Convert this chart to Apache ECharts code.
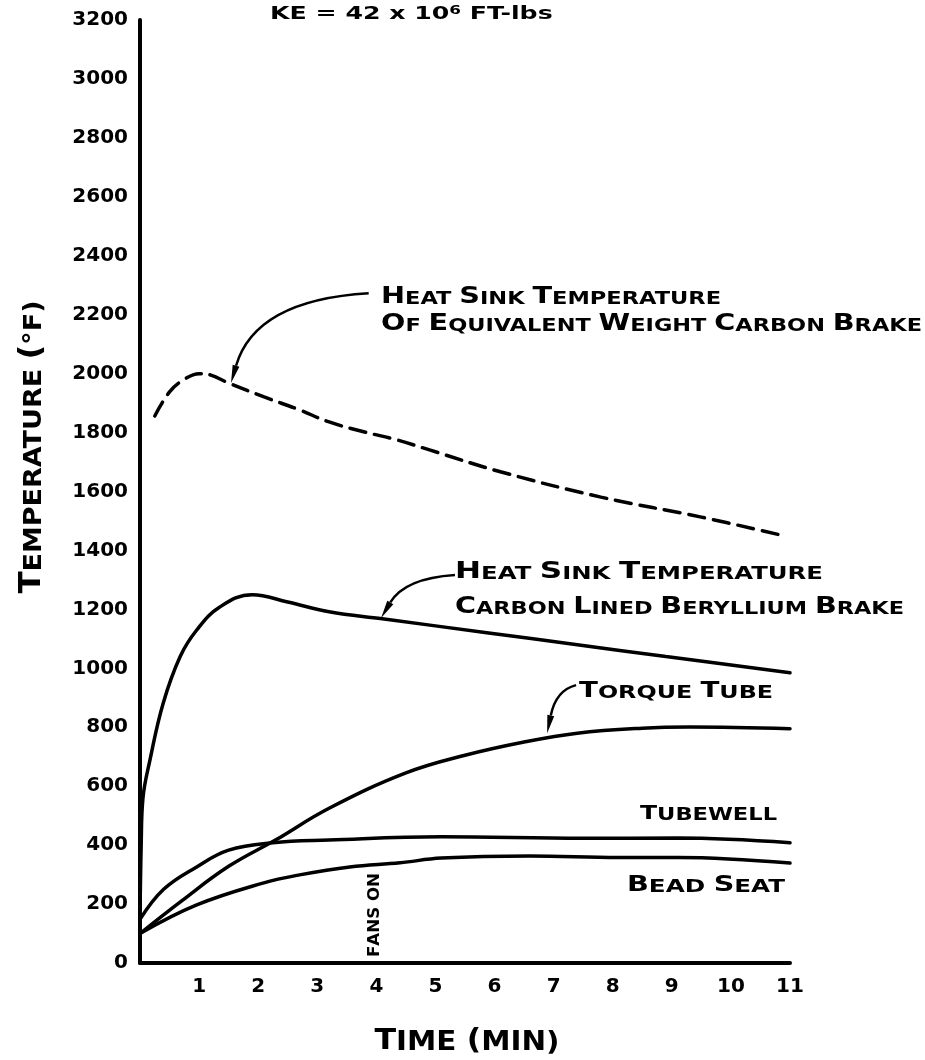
<!DOCTYPE html>
<html>
<head>
<meta charset="utf-8">
<script src="https://cdn.jsdelivr.net/npm/echarts@6/dist/echarts.min.js"></script>
<style>
html, body { margin: 0; padding: 0; background: #fff; }
#chart { width: 925px; height: 1060px; }
</style>
</head>
<body>
<div id="chart"></div>
<script>
// values: time in minutes, temperature in °F
const berylliumTime = [0, 0.02, 0.05, 0.17, 0.39, 0.68, 0.96, 1.35, 1.9, 2.5, 3.2, 4.1, 5.9, 7.4, 8.9, 11]
const berylliumTemp = [150, 400, 560, 690, 880, 1040, 1130, 1208, 1250, 1225, 1192, 1168, 1120, 1080, 1040, 985]

const carbonTime = [0.25, 0.5, 0.73, 1.0, 1.2, 1.5, 2.1, 2.7, 3.2, 3.8, 4.35, 4.9, 6.1, 7.8, 9.5, 10.85]
const carbonTemp = [1856, 1938, 1978, 2000, 1995, 1968, 1921, 1877, 1836, 1802, 1775, 1741, 1667, 1581, 1513, 1452]

const torqueTime = [0, 0.7, 1.5, 2.3, 3.2, 4.5, 5.5, 6.5, 7.4, 8.5, 9.3, 11]
const torqueTemp = [100, 210, 328, 418, 525, 645, 705, 750, 780, 797, 801, 795]

const tubewellTime = [0, 0.4, 0.96, 1.5, 2.25, 3.2, 5.1, 7.5, 9.1, 11]
const tubewellTemp = [148, 250, 326, 383, 408, 417, 428, 423, 424, 408]

const beadTime = [0, 0.96, 2.08, 2.7, 3.55, 4.4, 5.1, 6.6, 8.1, 9.1, 11]
const beadTemp = [100, 197, 271, 299, 326, 340, 356, 363, 358, 358, 339]

const xTicks = [1, 2, 3, 4, 5, 6, 7, 8, 9, 10, 11]
const yTicks = [0, 200, 400, 600, 800, 1000, 1200, 1400, 1600, 1800, 2000, 2200, 2400, 2600, 2800, 3000, 3200]

const FONT = '"DejaVu Sans", sans-serif'
const zip = (xs, ys) => xs.map((x, i) => [x, ys[i]])

const myChart = echarts.init(document.getElementById('chart'))

function curve(name, xs, ys, dashed) {
  return {
    name,
    type: 'line',
    data: zip(xs, ys),
    smooth: 0.4,
    showSymbol: false,
    silent: true,
    lineStyle: {
      color: '#000',
      width: 3.5,
      type: dashed ? [16, 9] : 'solid',
      cap: 'round'
    }
  }
}

const option = {
  animation: false,
  backgroundColor: '#fff',
  grid: { left: 140, right: 135, top: 20, bottom: 97 },
  xAxis: {
    type: 'value',
    min: 0,
    max: 11,
    interval: 1,
    axisLine: { show: true, lineStyle: { color: '#000', width: 4 } },
    axisTick: { show: false },
    splitLine: { show: false },
    axisLabel: {
      color: '#000',
      fontSize: 20,
      fontWeight: 'bold',
      fontFamily: FONT,
      margin: 14,
      formatter: (v) => (xTicks.includes(v) ? String(v) : '')
    }
  },
  yAxis: {
    type: 'value',
    min: 0,
    max: 3200,
    interval: 200,
    axisLine: { show: true, lineStyle: { color: '#000', width: 4 } },
    axisTick: { show: false },
    splitLine: { show: false },
    axisLabel: {
      color: '#000',
      fontSize: 20,
      fontWeight: 'bold',
      fontFamily: FONT,
      margin: 12,
      formatter: (v) => (yTicks.includes(v) ? String(v) : '')
    }
  },
  series: [
    curve('Carbon brake', carbonTime, carbonTemp, true),
    curve('Beryllium brake', berylliumTime, berylliumTemp),
    curve('Torque tube', torqueTime, torqueTemp),
    curve('Tubewell', tubewellTime, tubewellTemp),
    curve('Bead seat', beadTime, beadTemp)
  ]
}

myChart.setOption(option)

// --- hand lettered annotations ---
const ctx = document.createElement('canvas').getContext('2d')
function textWidth(s, size) {
  ctx.font = 'bold ' + size + 'px ' + FONT
  return ctx.measureText(s).width
}

// small caps: first letter of each word bigger
function capsText(str, big, small) {
  let rich = ''
  let width = 0
  str.split(' ').forEach((w, i) => {
    if (i) { rich += '{s| }'; width += textWidth(' ', small) }
    rich += '{b|' + w[0] + '}'
    width += textWidth(w[0], big)
    if (w.length > 1) { rich += '{s|' + w.slice(1) + '}'; width += textWidth(w.slice(1), small) }
  })
  return { rich, width }
}

function label(str, big, small, x, y, target, align, rotation) {
  const t = capsText(str, big, small)
  return {
    type: 'text',
    x, y,
    rotation: rotation || 0,
    scaleX: target / t.width,
    silent: true,
    style: {
      text: t.rich,
      align: align || 'left',
      verticalAlign: 'middle',
      textAlign: align || 'left',
      textVerticalAlign: 'middle',
      fill: '#000',
      rich: {
        b: { fontSize: big, fontWeight: 'bold', fontFamily: FONT, verticalAlign: 'bottom', color: '#000' },
        s: { fontSize: small, fontWeight: 'bold', fontFamily: FONT, verticalAlign: 'bottom', color: '#000' }
      }
    }
  }
}

function arrow(from, ctrl, tip) {
  const p0 = myChart.convertToPixel({ gridIndex: 0 }, from)
  const c = myChart.convertToPixel({ gridIndex: 0 }, ctrl)
  const p1 = myChart.convertToPixel({ gridIndex: 0 }, tip)
  const dx = p1[0] - c[0]
  const dy = p1[1] - c[1]
  const len = Math.hypot(dx, dy)
  const ux = dx / len
  const uy = dy / len
  const hl = 18
  const hw = 3.5
  const bx = p1[0] - ux * hl
  const by = p1[1] - uy * hl
  return [
    {
      type: 'bezierCurve',
      silent: true,
      shape: { x1: p0[0], y1: p0[1], x2: bx, y2: by, cpx1: c[0], cpy1: c[1] },
      style: { stroke: '#000', lineWidth: 2.5, fill: null }
    },
    {
      type: 'polygon',
      silent: true,
      shape: { points: [[p1[0], p1[1]], [bx - uy * hw, by + ux * hw], [bx + uy * hw, by - ux * hw]] },
      style: { fill: '#000' }
    }
  ]
}

const keTitle = {
  type: 'text',
  x: 270,
  y: 14,
  scaleX: 1.4,
  silent: true,
  style: {
    text: '{n|KE = 42 x 10}{sup|6}{n| FT-lbs}',
    align: 'left',
    verticalAlign: 'middle',
    textAlign: 'left',
    textVerticalAlign: 'middle',
    rich: {
      n: { fontSize: 18, fontWeight: 'bold', fontFamily: FONT, color: '#000', verticalAlign: 'bottom' },
      sup: { fontSize: 12, fontWeight: 'bold', fontFamily: FONT, color: '#000', verticalAlign: 'top' }
    }
  }
}

const graphics = [
  keTitle,
  label('TEMPERATURE (°F)', 30, 25, 32, 447, 293, 'center', Math.PI / 2),
  label('TIME (MIN)', 28, 26, 467, 1042, 185, 'center'),
  label('HEAT SINK TEMPERATURE', 23, 18, 381, 297, 340),
  label('OF EQUIVALENT WEIGHT CARBON BRAKE', 23, 18, 381, 324, 541),
  label('HEAT SINK TEMPERATURE', 23, 18, 455, 572, 368),
  label('CARBON LINED BERYLLIUM BRAKE', 23, 18, 455, 607, 449),
  label('TORQUE TUBE', 21, 18, 579, 692, 194),
  label('TUBEWELL', 20, 18, 777, 814, 137, 'right'),
  label('BEAD SEAT', 21, 18, 627, 886, 158),
  label('FANS ON', 15, 15, 375, 915, 84, 'center', Math.PI / 2)
]
  .concat(arrow([3.87, 2273], [1.95, 2250], [1.54, 1968]))
  .concat(arrow([5.33, 1317], [4.48, 1306], [4.08, 1171]))
  .concat(arrow([7.38, 943], [7.04, 926], [6.89, 780]))

myChart.setOption({ graphic: graphics })
</script>
</body>
</html>
